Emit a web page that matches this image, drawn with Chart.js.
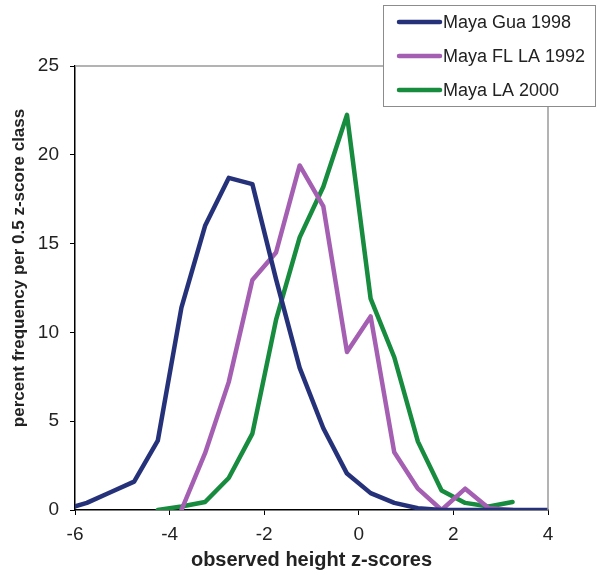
<!DOCTYPE html>
<html>
<head>
<meta charset="utf-8">
<script src="https://cdn.jsdelivr.net/npm/chart.js@4.4.1/dist/chart.umd.min.js"></script>
<style>
  html, body { margin: 0; padding: 0; background: #fff; }
  #wrap { width: 597px; height: 572px; position: relative; }
</style>
</head>
<body>
<div id="wrap"><canvas id="zChart"></canvas></div>
<script>
// z-score class midpoints and percent per class
const guaX = [-6.25, -5.75, -5.25, -4.75, -4.25, -3.75, -3.25, -2.75, -2.25, -1.75, -1.25, -0.75, -0.25, 0.25, 0.75, 1.25, 1.75, 2.25, 2.75, 3.25, 3.75, 4.25];
const guaY = [0, 0.4, 1.0, 1.6, 3.9, 11.4, 16.0, 18.7, 18.35, 13.0, 8.0, 4.6, 2.05, 0.95, 0.4, 0.1, 0, 0, 0, 0, 0, 0];

const flX = [-3.75, -3.25, -2.75, -2.25, -1.75, -1.25, -0.75, -0.25, 0.25, 0.75, 1.25, 1.75, 2.25, 2.75, 3.25];
const flY = [0, 3.2, 7.2, 12.95, 14.5, 19.4, 17.1, 8.9, 10.9, 3.25, 1.2, 0, 1.2, 0.1, 0];

const laX = [-4.25, -3.75, -3.25, -2.75, -2.25, -1.75, -1.25, -0.75, -0.25, 0.25, 0.75, 1.25, 1.75, 2.25, 2.75, 3.25];
const laY = [0, 0.2, 0.45, 1.8, 4.3, 10.7, 15.35, 18.2, 22.25, 11.9, 8.6, 3.85, 1.1, 0.4, 0.2, 0.45];

const seriesNames = ['Maya Gua 1998', 'Maya FL LA 1992', 'Maya LA 2000'];
const seriesColors = ['#25327a', '#a55fb2', '#178b3e'];
const yTitle = 'percent frequency per 0.5 z-score class';

const FONT = '"Liberation Sans", Arial, sans-serif';

function toPoints(xs, ys) {
  return xs.map((x, i) => ({ x: x, y: ys[i] }));
}

// gray top/right frame, y title (sits a bit above centre) and legend box
const frameAndLegend = {
  id: 'frameAndLegend',
  afterDraw(chart) {
    const ctx = chart.ctx;
    const a = chart.chartArea;
    ctx.save();
    ctx.strokeStyle = '#9a9a9a';
    ctx.lineWidth = 1.5;
    ctx.beginPath();
    ctx.moveTo(a.left, a.top);
    ctx.lineTo(a.right, a.top);
    ctx.lineTo(a.right, a.bottom);
    ctx.stroke();

    // y axis title
    ctx.save();
    ctx.translate(19, 268);
    ctx.rotate(-Math.PI / 2);
    ctx.font = 'bold 17px ' + FONT;
    ctx.fillStyle = '#222';
    ctx.textAlign = 'center';
    ctx.textBaseline = 'middle';
    ctx.fillText(yTitle, 0, 0);
    ctx.restore();

    // legend
    const bx = 383, by = 5, bw = 213, bh = 102;
    ctx.fillStyle = '#fff';
    ctx.fillRect(bx, by, bw, bh);
    ctx.strokeStyle = '#8c8c8c';
    ctx.lineWidth = 1;
    ctx.strokeRect(bx + 0.5, by + 0.5, bw - 1, bh - 1);
    const rows = [22, 56, 90];
    ctx.font = '18px ' + FONT;
    ctx.textBaseline = 'middle';
    ctx.lineCap = 'round';
    seriesNames.forEach((name, i) => {
      ctx.strokeStyle = seriesColors[i];
      ctx.lineWidth = 4.5;
      ctx.beginPath();
      ctx.moveTo(399, rows[i]);
      ctx.lineTo(440, rows[i]);
      ctx.stroke();
      ctx.fillStyle = '#222';
      ctx.fillText(name, 443, rows[i] + 1);
    });
    ctx.restore();
  }
};

const datasets = [
  toPoints(guaX, guaY),
  toPoints(flX, flY),
  toPoints(laX, laY)
].map((pts, i) => ({
  label: seriesNames[i],
  data: pts,
  borderColor: seriesColors[i],
  backgroundColor: seriesColors[i],
  borderWidth: 4.5,
  pointRadius: 0,
  tension: 0,
  borderJoinStyle: 'round',
  borderCapStyle: 'round'
}));

new Chart(document.getElementById('zChart'), {
  type: 'line',
  data: { datasets: datasets },
  options: {
    responsive: true,
    maintainAspectRatio: false,
    animation: false,
    layout: { padding: { top: 66, right: 49, left: 0, bottom: 0 } },
    plugins: {
      legend: { display: false },
      tooltip: { enabled: false }
    },
    scales: {
      x: {
        type: 'linear',
        min: -6,
        max: 4,
        afterFit: (s) => { s.height = 62; },
        ticks: {
          stepSize: 2,
          color: '#222',
          padding: 8,
          font: { family: FONT, size: 19 }
        },
        grid: { display: true, drawOnChartArea: false, drawTicks: true, tickLength: 5, color: '#000' },
        border: { color: '#000', width: 1.5 },
        title: {
          display: true,
          text: 'observed height z-scores',
          color: '#222',
          font: { family: FONT, size: 20, weight: 'bold' },
          padding: { top: 0, bottom: 0 }
        }
      },
      y: {
        min: 0,
        max: 25,
        afterFit: (s) => { s.width = 75; },
        ticks: {
          stepSize: 5,
          color: '#222',
          padding: 11,
          font: { family: FONT, size: 19 }
        },
        grid: { display: true, drawOnChartArea: false, drawTicks: true, tickLength: 5, color: '#000' },
        border: { color: '#000', width: 1.5 }
      }
    }
  },
  plugins: [frameAndLegend]
});
</script>
</body>
</html>
